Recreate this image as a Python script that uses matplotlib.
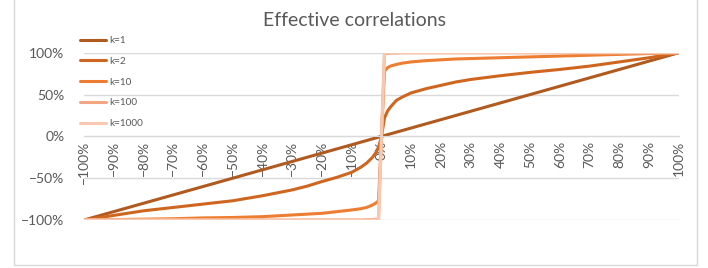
import numpy as np
import matplotlib
matplotlib.use("Agg")
import matplotlib.pyplot as plt
from matplotlib.patches import Rectangle
from matplotlib.ticker import PercentFormatter

plt.rcParams['font.family'] = ['Lato', 'DejaVu Sans']

# x positions (correlation) and read-off effective correlations
x = [-1, -0.9, -0.8, -0.7, -0.6, -0.5, -0.4, -0.3, -0.25, -0.2, -0.15, -0.1, -0.07, -0.05,
     -0.03, -0.02, -0.01, 0, 0.01, 0.02, 0.03, 0.05, 0.07, 0.1, 0.15, 0.2, 0.25, 0.3,
     0.4, 0.5, 0.6, 0.7, 0.8, 0.9, 1]

k1 = [-1, -0.9, -0.8, -0.7, -0.6, -0.5, -0.4, -0.3, -0.25, -0.2, -0.15, -0.1, -0.07, -0.05,
      -0.03, -0.02, -0.01, 0, 0.01, 0.02, 0.03, 0.05, 0.07, 0.1, 0.15, 0.2, 0.25, 0.3,
      0.4, 0.5, 0.6, 0.7, 0.8, 0.9, 1]
k2 = [-1.0, -0.945, -0.89, -0.85, -0.81, -0.77, -0.71, -0.64, -0.595, -0.54, -0.49, -0.43,
      -0.37, -0.32, -0.25, -0.20, -0.13, 0, 0.22, 0.30, 0.35, 0.43, 0.47, 0.52,
      0.57, 0.61, 0.65, 0.68, 0.725, 0.765, 0.80, 0.84, 0.89, 0.94, 1.0]
k10 = [-1.0, -0.995, -0.99, -0.985, -0.975, -0.97, -0.96, -0.94, -0.93, -0.92, -0.90, -0.88,
       -0.865, -0.85, -0.82, -0.80, -0.77, 0, 0.78, 0.82, 0.84, 0.86, 0.875, 0.89,
       0.905, 0.915, 0.925, 0.93, 0.94, 0.95, 0.96, 0.97, 0.98, 0.99, 1.0]
k100 = [-1, -1, -1, -1, -1, -1, -1, -1, -1, -1, -1, -1, -1, -0.995, -0.995, -0.99,
        -0.99, 0, 0.99, 0.99, 0.995, 0.995, 1, 1, 1, 1, 1, 1, 1, 1, 1, 1, 1, 1, 1]
k1000 = [-1, -1, -1, -1, -1, -1, -1, -1, -1, -1, -1, -1, -1, -1, -1, -1, -1, 0,
         1, 1, 1, 1, 1, 1, 1, 1, 1, 1, 1, 1, 1, 1, 1, 1, 1]

labels = ['k=1', 'k=2', 'k=10', 'k=100', 'k=1000']
colors = ['#B05A20', '#CF661F', '#ED7D31', '#F3A682', '#F8C9B0']
xticks = [-1, -0.9, -0.8, -0.7, -0.6, -0.5, -0.4, -0.3, -0.2, -0.1, 0,
          0.1, 0.2, 0.3, 0.4, 0.5, 0.6, 0.7, 0.8, 0.9, 1]
yticks = [-1, -0.5, 0, 0.5, 1]

fig = plt.figure(figsize=(7.08, 2.68), dpi=100)
ax = fig.add_axes([84/708, 1 - 220/268, (679 - 84)/708, (220 - 52.7)/268])

for ys, lab, c in zip([k1, k2, k10, k100, k1000], labels, colors):
    ax.plot(x, ys, color=c, lw=2.2, label=lab, solid_capstyle='round')

ax.set_xlim(-1, 1)
ax.set_ylim(-1, 1)
ax.set_yticks(yticks)
ax.yaxis.set_major_formatter(PercentFormatter(1.0, decimals=0))
ax.set_xticks(xticks)
ax.xaxis.set_major_formatter(PercentFormatter(1.0, decimals=0))
ax.grid(axis='y', color='#d9d9d9', lw=1)
ax.set_axisbelow(True)
for s in ['top', 'right', 'left']:
    ax.spines[s].set_visible(False)
ax.spines['bottom'].set_position(('data', 0))
ax.spines['bottom'].set_color('#d9d9d9')
ax.tick_params(axis='x', length=0, pad=3, labelsize=10, labelcolor='#595959',
               labelrotation=90)
ax.tick_params(axis='y', length=0, pad=14, labelsize=10, labelcolor='#595959')

fig.text(355/708, 1 - 20/268, 'Effective correlations', ha='center', va='center',
         fontsize=14, color='#595959')

fig.legend(loc='upper left', bbox_to_anchor=(76/708, 1 - 32/268), frameon=False,
           fontsize=7.2, handlelength=2.6, handletextpad=0.3, labelspacing=1.18,
           labelcolor='#595959', borderaxespad=0)

fig.patches.append(Rectangle((14/708, 3/268), (697 - 14)/708, 1.2, transform=fig.transFigure,
                             fill=False, edgecolor='#d9d9d9', lw=1))

fig.savefig('out.png', dpi=100)
